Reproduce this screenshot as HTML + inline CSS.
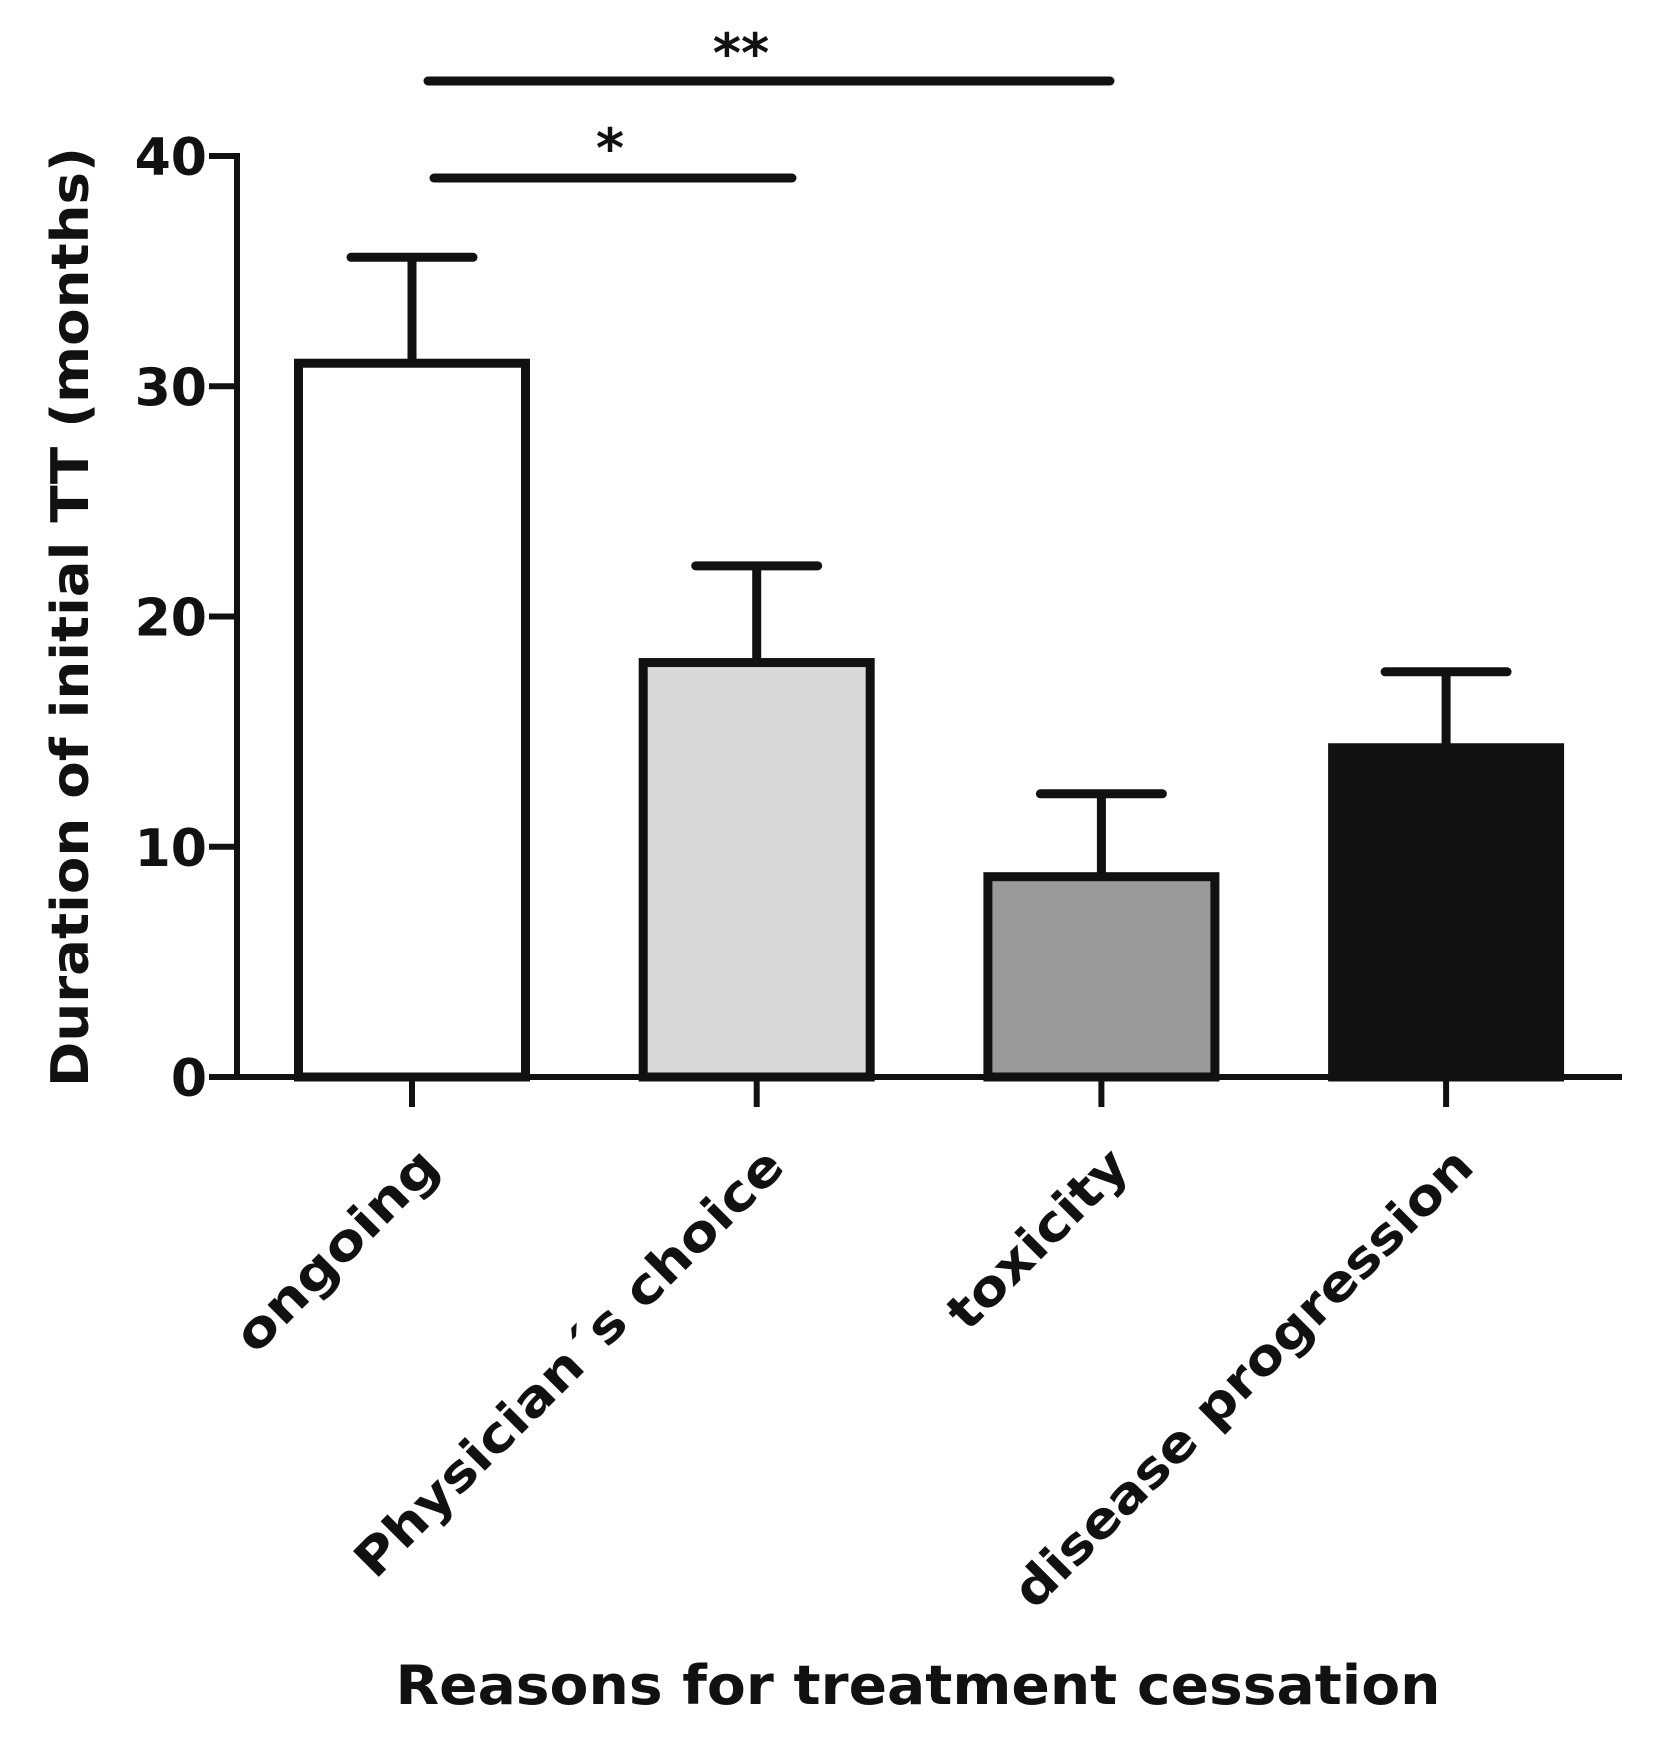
<!DOCTYPE html>
<html><head><meta charset="utf-8"><style>
body{margin:0;background:#fff}
svg{display:block;font-family:"DejaVu Sans","Liberation Sans",sans-serif;font-weight:bold}
</style></head><body>
<svg id="chart" width="1654" height="1746" viewBox="0 0 1654 1746" xmlns="http://www.w3.org/2000/svg"></svg>
<script>
const categories = ["ongoing", "Physician\u00b4s choice", "toxicity", "disease progression"];
const means = [31, 18, 8.7, 14.3];
const errors = [4.6, 4.2, 3.6, 3.3];
const fills = ["#ffffff", "#d9d9d9", "#9a9a9a", "#111111"];
const yTicks = [0, 10, 20, 30, 40];

const svg = document.getElementById('chart');
const NS = 'http://www.w3.org/2000/svg';
const x0 = 237, xEnd = 1622, y0 = 1077, y40 = 156;
const yScale = v => y0 - (v / 40) * (y0 - y40);
const xCenter = i => 412 + i * 344.7;
const barW = 227, capHalf = 61, sw = 9;
const labelLens = [264, 582, 232, 625];
function mk(tag, attrs, parent) {
  const e = document.createElementNS(NS, tag);
  for (const k in attrs) e.setAttribute(k, attrs[k]);
  (parent || svg).appendChild(e);
  return e;
}
means.forEach((m, i) => {
  const cx = xCenter(i);
  const top = yScale(m + errors[i]);
  const eb = mk('line', {x1: cx, x2: cx, y1: yScale(m), y2: top, stroke: '#111', 'stroke-width': sw});
  
  
  const cap = mk('line', {x1: cx - capHalf, x2: cx + capHalf, y1: top, y2: top, stroke: '#111', 'stroke-width': sw, 'stroke-linecap': 'round'});
  
  
  const r = mk('rect', {x: cx - barW / 2, y: yScale(m), width: barW, height: y0 - yScale(m), fill: fills[i], stroke: '#111', 'stroke-width': sw});
  
  
  const tk = mk('line', {x1: cx, x2: cx, y1: y0, y2: y0 + 30, stroke: '#111', 'stroke-width': 6});
  
  
  const lx = cx + 30, ly = y0 + 92;
  const t = mk('text', {x: lx, y: ly, 'text-anchor': 'end', 'font-size': 50, fill: '#111', textLength: labelLens[i], lengthAdjust: 'spacingAndGlyphs', transform: `rotate(-45 ${lx} ${ly})`});
  t.textContent = categories[i];
  
  
});
const ya = mk('line', {x1: x0, x2: x0, y1: y40 - 3, y2: y0 + 3, stroke: '#111', 'stroke-width': 6});


const xa = mk('line', {x1: x0 - 3, x2: xEnd, y1: y0, y2: y0, stroke: '#111', 'stroke-width': 6});


yTicks.forEach(v => {
  const y = yScale(v);
  const l = mk('line', {x1: 209, x2: x0, y1: y, y2: y, stroke: '#111', 'stroke-width': 6});
  
  
  const t = mk('text', {x: 207, y: y + 19, 'text-anchor': 'end', 'font-size': 52, fill: '#111'});
  t.textContent = v;
  
  
});
const s1 = mk('line', {x1: 428, x2: 1110, y1: 81, y2: 81, stroke: '#111', 'stroke-width': 9, 'stroke-linecap': 'round'});


const st1 = mk('text', {x: 741, y: 72, 'text-anchor': 'middle', 'font-size': 54, fill: '#111'});
st1.textContent = '**';


const s2 = mk('line', {x1: 434, x2: 792, y1: 178, y2: 178, stroke: '#111', 'stroke-width': 9, 'stroke-linecap': 'round'});


const st2 = mk('text', {x: 610, y: 167, 'text-anchor': 'middle', 'font-size': 54, fill: '#111'});
st2.textContent = '*';


const yt = mk('text', {x: 88, y: 617, 'text-anchor': 'middle', 'font-size': 52, fill: '#111', textLength: 940, lengthAdjust: 'spacingAndGlyphs', transform: 'rotate(-90 88 617)'});
yt.textContent = 'Duration of initial TT (months)';


const xt = mk('text', {x: 918, y: 1704, 'text-anchor': 'middle', 'font-size': 54, fill: '#111', textLength: 1045, lengthAdjust: 'spacingAndGlyphs'});
xt.textContent = 'Reasons for treatment cessation';


</script>
</body></html>
